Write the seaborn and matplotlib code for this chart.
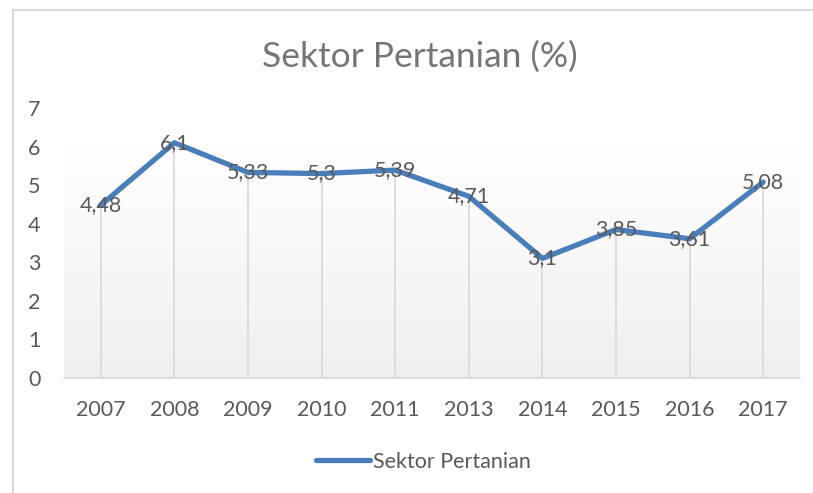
import matplotlib

matplotlib.use("Agg")

import matplotlib.pyplot as plt
import numpy as np
import pandas as pd
import seaborn as sns
from matplotlib.lines import Line2D

sns.set_theme(style="white")
plt.rcParams["font.family"] = ["Lato", "DejaVu Sans"]

# data
years = ["2007", "2008", "2009", "2010", "2011", "2013", "2014", "2015", "2016", "2017"]
values = [4.48, 6.1, 5.33, 5.3, 5.39, 4.71, 3.1, 3.85, 3.61, 5.08]
value_labels = ["4,48", "6,1", "5,33", "5,3", "5,39", "4,71", "3,1", "3,85", "3,61", "5,08"]
series_name = "Sektor Pertanian"
title = "Sektor Pertanian (%)"

LINE = "#4a7ebb"
TEXT = "#595959"
GRID = "#d9d9d9"
FS = 15.5

df = pd.DataFrame({"pos": range(len(years)), "year": years, "value": values})

fig = plt.figure(figsize=(8.13, 4.93), dpi=100)
ax = fig.add_axes([64 / 813, 1 - 378 / 493, 736 / 813, 270 / 493])

# plot-area gradient (white at the top, light grey at the bottom)
grad = np.linspace(0, 1, 256).reshape(-1, 1)
cmap = matplotlib.colors.LinearSegmentedColormap.from_list("g", ["#ffffff", "#efefef"])
ax.imshow(grad, extent=[-0.5, len(years) - 0.5, 0, 6], aspect="auto",
          cmap=cmap, origin="upper", zorder=0)

# drop lines
ax.vlines(df["pos"], 0, df["value"], color=GRID, lw=1.2, zorder=1)

sns.lineplot(data=df, x="pos", y="value", color=LINE, lw=3.8, ax=ax, zorder=3,
             solid_joinstyle="round", solid_capstyle="round")

for p, v, lab in zip(df["pos"], df["value"], value_labels):
    ax.text(p, v, lab, ha="center", va="center", fontsize=FS, color=TEXT, zorder=4)

ax.set_xlim(-0.5, len(years) - 0.5)
ax.set_ylim(0, 7)
ax.set_xticks(df["pos"], years)
ax.set_yticks(range(0, 8))
ax.tick_params(axis="both", length=0, labelsize=FS, labelcolor=TEXT)
ax.tick_params(axis="x", pad=16)
ax.tick_params(axis="y", pad=17)
ax.set_xlabel("")
ax.set_ylabel("")
for side in ["top", "right", "left"]:
    ax.spines[side].set_visible(False)
ax.spines["bottom"].set_color(GRID)
ax.spines["bottom"].set_linewidth(1.2)
ax.set_facecolor("none")

fig.text(420 / 813, 1 - 57 / 493, title, ha="center", va="center", fontsize=25.5, color="#757575")

handle = Line2D([0], [0], color=LINE, lw=3.8, solid_capstyle="round")
fig.legend([handle], [series_name], loc="center", bbox_to_anchor=(423 / 813, 1 - 462 / 493),
           frameon=False, fontsize=FS, labelcolor=TEXT, handlelength=2.55, handletextpad=0.1)

# chart border (left and top visible in the crop)
fig.add_artist(Line2D([13 / 813, 13 / 813], [0, 1 - 10 / 493], color=GRID, lw=1.5))
fig.add_artist(Line2D([13 / 813, 1], [1 - 10 / 493, 1 - 10 / 493], color=GRID, lw=1.5))

fig.savefig("out.png", dpi=100)
plt.close(fig)
